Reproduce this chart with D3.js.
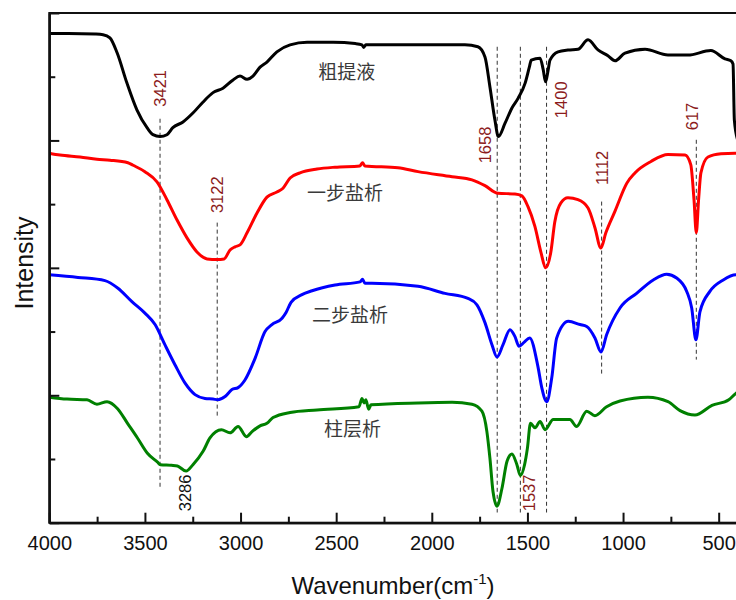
<!DOCTYPE html>
<html lang="zh">
<head>
<meta charset="utf-8">
<title>FTIR spectra</title>
<style>
body { margin: 0; background: #fff; }
.axis path, .axis line { stroke: #111; stroke-width: 2; fill: none; }
.axis text { font: 20px "Liberation Sans", Arial, sans-serif; fill: #111; }
.spectrum { fill: none; stroke-width: 3; stroke-linejoin: round; }
.marker { stroke: #333; stroke-width: 1; stroke-dasharray: 4,3; }
.peak { font: 16.5px "Liberation Sans", Arial, sans-serif; }
.name { font: 19px "Noto Sans CJK SC", sans-serif; fill: #3a3a3a; }
</style>
</head>
<body>
<script src="https://d3js.org/d3.v7.min.js"></script>
<script>

// series names
var seriesNames = ["粗提液", "一步盐析", "二步盐析", "柱层析"];

// spectra, [wavenumber, intensity (a.u., offset)]
var crudeExtract = [[4000,7.68],[3900,7.68],[3760,7.67],[3719,7.66],[3683,7.61],[3646,7.38],[3594,6.90],[3542,6.48],[3489,6.20],[3458,6.09],[3421,6.06],[3385,6.09],[3354,6.20],[3301,6.29],[3249,6.43],[3197,6.60],[3144,6.75],[3092,6.82],[3039,6.95],[3003,7.01],[2966,6.96],[2935,7.01],[2898,7.15],[2862,7.23],[2810,7.39],[2741,7.50],[2652,7.54],[2516,7.54],[2400,7.52],[2365,7.50],[2356,7.46],[2345,7.50],[2072,7.50],[1827,7.50],[1759,7.47],[1722,7.31],[1696,6.84],[1670,6.32],[1652,6.06],[1617,6.27],[1581,6.51],[1549,6.66],[1512,6.90],[1490,7.15],[1480,7.26],[1434,7.29],[1418,7.12],[1405,6.92],[1392,7.10],[1382,7.26],[1340,7.39],[1288,7.42],[1236,7.43],[1183,7.58],[1131,7.42],[1079,7.33],[1042,7.25],[990,7.37],[885,7.43],[765,7.34],[661,7.34],[541,7.41],[467,7.28],[436,7.25],[425,7.20],[418,6.32],[400,6.00]];

var oneStepSalting = [[4000,5.80],[3944,5.77],[3839,5.74],[3751,5.705],[3683,5.69],[3589,5.65],[3562,5.61],[3500,5.51],[3437,5.35],[3385,5.07],[3332,4.75],[3280,4.47],[3228,4.25],[3175,4.14],[3123,4.13],[3086,4.14],[3055,4.28],[3029,4.33],[3003,4.36],[2966,4.55],[2914,4.86],[2862,5.11],[2810,5.19],[2778,5.25],[2741,5.41],[2689,5.49],[2600,5.55],[2506,5.58],[2376,5.60],[2362,5.65],[2350,5.60],[2177,5.57],[2072,5.51],[1894,5.43],[1790,5.38],[1722,5.29],[1654,5.17],[1565,5.16],[1529,5.13],[1497,4.96],[1461,4.65],[1429,4.24],[1405,4.00],[1378,4.24],[1357,4.72],[1325,5.02],[1288,5.10],[1236,5.07],[1183,4.94],[1147,4.63],[1116,4.31],[1090,4.55],[1042,4.89],[990,5.27],[980,5.33],[938,5.49],[854,5.67],[765,5.78],[676,5.77],[646,5.62],[629,5.07],[617,4.55],[605,5.07],[593,5.49],[556,5.74],[488,5.79],[415,5.80],[400,5.80]];

var twoStepSalting = [[4000,3.89],[3850,3.85],[3709,3.80],[3641,3.68],[3568,3.47],[3500,3.29],[3447,3.11],[3395,2.79],[3343,2.48],[3290,2.19],[3238,2.01],[3186,1.95],[3144,1.94],[3118,1.93],[3081,1.98],[3045,2.09],[3013,2.12],[2977,2.24],[2924,2.58],[2872,3.00],[2836,3.11],[2783,3.21],[2762,3.30],[2736,3.46],[2679,3.58],[2626,3.64],[2506,3.73],[2375,3.78],[2362,3.82],[2350,3.76],[2313,3.76],[2072,3.71],[1931,3.60],[1811,3.52],[1764,3.42],[1722,3.14],[1685,2.79],[1659,2.60],[1628,2.79],[1591,3.03],[1565,2.92],[1544,2.77],[1518,2.83],[1488,2.90],[1445,2.45],[1425,2.12],[1399,1.90],[1373,2.27],[1347,2.90],[1286,3.16],[1225,3.11],[1190,3.08],[1147,2.90],[1115,2.68],[1086,2.95],[1016,3.37],[929,3.60],[842,3.81],[772,3.90],[720,3.84],[667,3.63],[641,3.37],[619,2.87],[598,3.31],[546,3.63],[476,3.81],[410,3.89],[400,3.89]];

var columnChrom = [[4000,1.97],[3907,1.94],[3803,1.93],[3751,1.86],[3698,1.90],[3643,1.79],[3591,1.56],[3539,1.33],[3487,1.09],[3434,0.95],[3419,0.91],[3361,0.90],[3330,0.89],[3285,0.81],[3249,0.91],[3196,1.12],[3160,1.33],[3100,1.46],[3055,1.41],[3013,1.51],[2969,1.35],[2940,1.43],[2898,1.52],[2862,1.56],[2830,1.65],[2741,1.73],[2600,1.77],[2381,1.82],[2365,1.95],[2355,1.88],[2345,1.93],[2330,1.78],[2318,1.85],[2072,1.88],[1894,1.89],[1790,1.86],[1738,1.75],[1712,1.43],[1696,1.01],[1680,0.49],[1659,0.26],[1633,0.54],[1607,0.96],[1581,1.08],[1555,0.91],[1537,0.74],[1515,0.91],[1500,1.17],[1484,1.56],[1460,1.49],[1434,1.59],[1408,1.46],[1365,1.62],[1278,1.62],[1243,1.51],[1190,1.75],[1147,1.68],[1086,1.82],[1016,1.91],[870,1.97],[765,1.90],[702,1.76],[624,1.69],[535,1.84],[447,1.93],[410,2.03],[400,2.05]];

// peak labels
var peakLabels = ["3421", "3122", "3286", "1658", "1537", "1400", "1112", "617"];
var peakWaves = [3421, 3122, 3286, 1658, 1537, 1400, 1112, 617];

// x ticks
var majorTicks = [4000, 3500, 3000, 2500, 2000, 1500, 1000, 500];
var minorTicks = [3750, 3250, 2750, 2250, 1750, 1250, 750];

var spectra = [crudeExtract, oneStepSalting, twoStepSalting, columnChrom];
var colors = ["#000000", "#ff0000", "#0000ff", "#008000"];

var margin = {left: 49.3, top: 13, right: 737.8, bottom: 522.7};

var x = d3.scaleLinear().domain([4000, 400]).range([margin.left, margin.right]);
var y = d3.scaleLinear().domain([0, 8]).range([margin.bottom, margin.top]);

var svg = d3.select("body")
    .append("svg")
        .attr("width", 736)
        .attr("height", 600);

var line = d3.line()
    .x(function(d) { return x(d[0]); })
    .y(function(d) { return y(d[1]); })
    .curve(d3.curveMonotoneX);

// dashed marker lines (drawn under spectra)
var markerLayout = {
    "3421": {line: [6.34, 0.55], tw: 3421, tv: 6.53, color: "#8b1c1c"},
    "3122": {line: [4.71, 1.67], tw: 3122, tv: 4.86, color: "#8b1c1c"},
    "3286": {line: null,         tw: 3290, tv: 0.18, color: "#111"},
    "1658": {line: [7.47, 0.16], tw: 1720, tv: 5.64, color: "#8b1c1c"},
    "1537": {line: [7.47, 0.16], tw: 1492, tv: 0.18, color: "#8b1c1c"},
    "1400": {line: [7.47, 0.16], tw: 1323, tv: 6.35, color: "#8b1c1c"},
    "1112": {line: [5.04, 2.32], tw: 1112, tv: 5.30, color: "#8b1c1c"},
    "617":  {line: [6.01, 2.56], tw: 640,  tv: 6.16, color: "#8b1c1c"}
};

peakLabels.forEach(function(lab, i) {
    var m = markerLayout[lab];
    if (m.line) {
        svg.append("line")
            .attr("class", "marker")
            .attr("x1", x(peakWaves[i])).attr("x2", x(peakWaves[i]))
            .attr("y1", y(m.line[0])).attr("y2", y(m.line[1]));
    }
});

spectra.forEach(function(s, i) {
    svg.append("path")
        .attr("class", "spectrum")
        .style("stroke", colors[i])
        .attr("d", line(s));
});

// peak numbers
peakLabels.forEach(function(lab) {
    var m = markerLayout[lab];
    svg.append("text")
        .attr("class", "peak")
        .attr("transform", "translate(" + x(m.tw) + "," + y(m.tv) + ") rotate(-90)")
        .attr("text-anchor", "start")
        .attr("dominant-baseline", "central")
        .style("fill", m.color)
        .text(lab);
});

// series names
var namePos = [[2445, 7.09], [2454, 5.20], [2428, 3.29], [2415, 1.49]];
seriesNames.forEach(function(n, i) {
    svg.append("text")
        .attr("class", "name")
        .attr("x", x(namePos[i][0]))
        .attr("y", y(namePos[i][1]))
        .attr("text-anchor", "middle")
        .attr("dominant-baseline", "central")
        .text(n);
});

// frame
svg.append("rect")
    .attr("x", margin.left).attr("y", margin.top)
    .attr("width", margin.right - margin.left)
    .attr("height", margin.bottom - margin.top)
    .style("fill", "none").style("stroke", "#111").style("stroke-width", 2);

// x axis
svg.append("g")
    .attr("class", "axis")
    .attr("transform", "translate(0," + margin.bottom + ")")
    .call(d3.axisBottom(x).tickValues(majorTicks).tickSize(-10).tickSizeOuter(0)
        .tickPadding(13).tickFormat(d3.format("d")));

svg.append("g")
    .attr("class", "axis")
    .attr("transform", "translate(0," + margin.bottom + ")")
    .call(d3.axisBottom(x).tickValues(minorTicks).tickSize(-6).tickSizeOuter(0).tickFormat(""));

// y axis, no labels
svg.append("g")
    .attr("class", "axis")
    .attr("transform", "translate(" + margin.left + ",0)")
    .call(d3.axisLeft(y).tickValues([0, 2, 4, 6, 8]).tickSize(-10).tickSizeOuter(0).tickFormat(""));

svg.append("g")
    .attr("class", "axis")
    .attr("transform", "translate(" + margin.left + ",0)")
    .call(d3.axisLeft(y).tickValues([1, 3, 5, 7]).tickSize(-6).tickSizeOuter(0).tickFormat(""));

// axis titles
var xt = svg.append("text")
    .attr("x", 393)
    .attr("y", 594)
    .attr("text-anchor", "middle")
    .style("font", "24px 'Liberation Sans', Arial, sans-serif")
    .style("fill", "#111");
xt.append("tspan").text("Wavenumber(cm");
xt.append("tspan").attr("dy", -10).style("font-size", "15px").text("-1");
xt.append("tspan").attr("dy", 10).text(")");

svg.append("text")
    .attr("transform", "translate(33,263) rotate(-90)")
    .attr("text-anchor", "middle")
    .style("font", "25px 'Liberation Sans', Arial, sans-serif")
    .style("fill", "#111")
    .text("Intensity");

</script>
</body>
</html>
